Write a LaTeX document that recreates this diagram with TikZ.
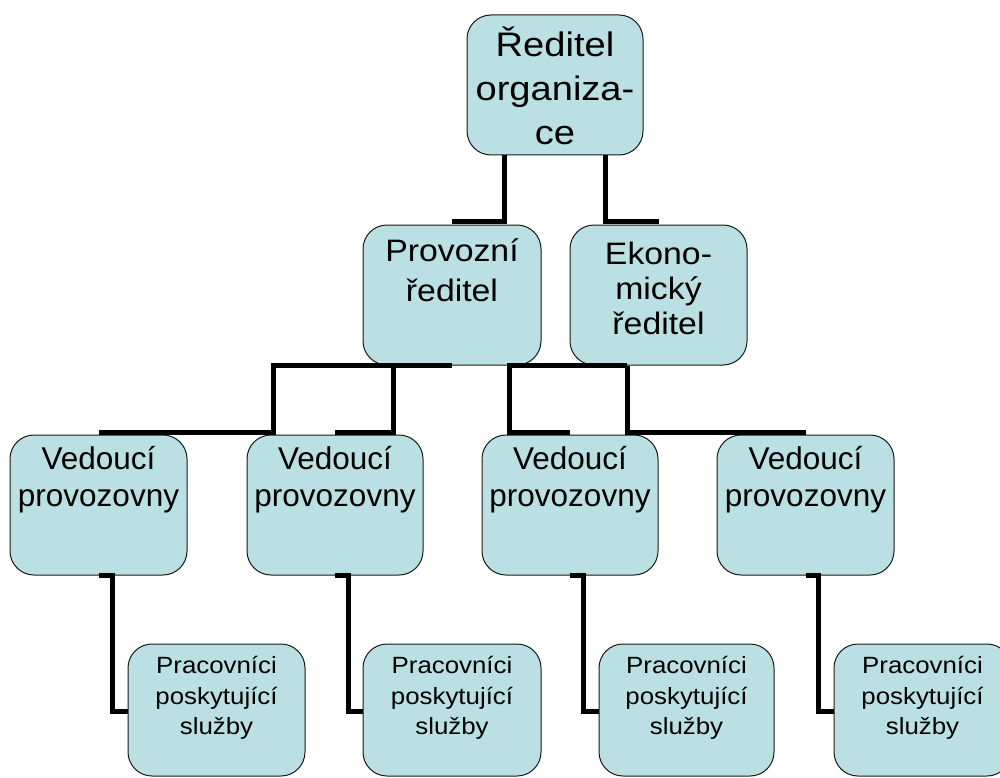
\documentclass[tikz,border=0pt]{standalone}
\usepackage{fontspec}
\setmainfont{Liberation Sans}
\definecolor{boxfill}{RGB}{187,224,227}
\begin{document}
\begin{tikzpicture}[x=1pt,y=-1pt,
  box/.style={draw=black!90, line width=1pt, fill=boxfill, rounded corners=24pt,
    inner sep=0pt, minimum width=177pt, minimum height=140pt},
  pbox/.style={box, minimum height=132pt},
  lbl/.style={align=center, inner sep=0pt, anchor=north},
  conn/.style={line width=5pt, draw=black, line join=miter}]
\useasboundingbox (0,0) rectangle (1000,778);
\clip (0,0) rectangle (1000,778);
% boxes
\node[box, minimum width=176pt] (org) at (555,85) {};
\node[box, minimum width=178pt] (prov) at (452,295) {};
\node[box] (ekon) at (658.5,295) {};
\node[box] (v1) at (98.5,505) {};
\node[box, minimum width=176pt] (v2) at (335,505) {};
\node[box, minimum width=176pt] (v3) at (570,505) {};
\node[box] (v4) at (805.5,505) {};
\node[pbox] (p1) at (216.5,710) {};
\node[pbox, minimum width=178pt] (p2) at (452,710) {};
\node[pbox, minimum width=175pt] (p3) at (686.5,710) {};
\node[pbox] (p4) at (922.5,710) {};
% connectors
\draw[conn] (org.south -| 504,0) |- (prov.north |- 0,221);
\draw[conn] (org.south -| 605,0) |- (ekon.north |- 0,221);
\draw[conn] (prov.south) -| (273,432) -- (v1.north |- 0,432);
\draw[conn] (prov.south) -| (393,432) -- (v2.north |- 0,432);
\draw[conn] (ekon.south -| 627,0) -| (509,432) -- (v3.north |- 0,432);
\draw[conn] (ekon.south -| 627,0) |- (v4.north |- 0,432);
\draw[conn] (v1.south) -| (112,711) -- (p1.west |- 0,711);
\draw[conn] (v2.south) -| (348,711) -- (p2.west |- 0,711);
\draw[conn] (v3.south) -| (583,711) -- (p3.west |- 0,711);
\draw[conn] (v4.south) -| (818,711) -- (p4.west |- 0,711);
% labels
\node[lbl, font=\fontsize{34}{44}\selectfont, xscale=1.12] (orgt) at (org.north)
  {\rule{0pt}{42pt}Ředitel\\organiza-\\ce};
\node[lbl, font=\fontsize{31}{40}\selectfont, xscale=1.09] (provt) at (prov.north)
  {\rule{0pt}{37pt}Provozní\\ředitel};
\node[lbl, font=\fontsize{31}{35}\selectfont, xscale=1.09] (ekont) at (ekon.north)
  {\rule{0pt}{40pt}Ekono-\\mický\\ředitel};
\foreach \n in {v1,v2,v3,v4}{
  \node[lbl, font=\fontsize{31.5}{37}\selectfont] (\n t) at (\n.north)
    {\rule{0pt}{35pt}Vedoucí\\provozovny};
}
\foreach \n in {p1,p2,p3,p4}{
  \node[lbl, font=\fontsize{23.5}{30.5}\selectfont, xscale=1.1] (\n t) at (\n.north)
    {\rule{0pt}{30pt}Pracovníci\\poskytující\\služby};
}
\end{tikzpicture}
\end{document}
